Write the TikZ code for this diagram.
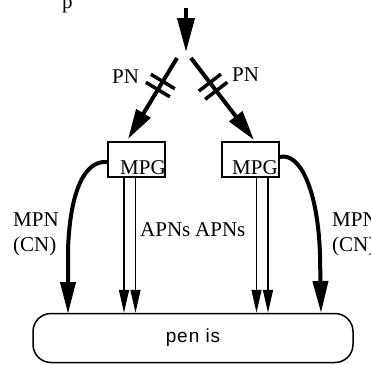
\documentclass[tikz,border=0pt]{standalone}
\usepackage{fontspec}
\setmainfont{Liberation Serif}
\newfontfamily\sansf[LetterSpace=5]{Liberation Sans}
\usetikzlibrary{arrows.meta,calc}
\begin{document}
\begin{tikzpicture}[x=1pt,y=-1pt,
  lbl/.style={anchor=base west,inner sep=0pt,font=\fontsize{21}{23}\selectfont},
  boxn/.style={draw,line width=1.6pt,minimum width=57pt,minimum height=35pt,inner sep=0pt},
  thickarr/.style={line width=4pt,-{Triangle[length=32pt,width=15pt]}},
  apn/.style={line width=1.4pt,-{Triangle[length=23pt,width=10pt]}},
  branch/.style={line width=4pt,-{Triangle[length=30pt,width=16pt]}},
  hash/.style={line width=3.5pt}]
\useasboundingbox (0,0) rectangle (371,364);
% nodes
\node[boxn] (mpgL) at (136.5,159.5) {};
\node[boxn] (mpgR) at (250.5,159.5) {};
\node[lbl] (tL) at (120,174) {MPG};
\node[lbl] (tR) at (232,174) {MPG};
\node[draw,line width=1.5pt,rounded corners=18pt,minimum width=320pt,minimum height=49pt,
      font=\sansf\fontsize{19}{21}\selectfont] (penis) at (193,338) {pen is};
% top arrow
\coordinate (top) at (186,8);
\coordinate (apex) at (186,52);
\draw[line width=4pt,-{Triangle[length=34pt,width=17pt]}] (top) -- (apex);
% branches
\coordinate (bl) at (177,58);
\coordinate (tl) at (128,139);
\coordinate (br) at (191,58);
\coordinate (tr) at (254,140);
\draw[branch] (bl) -- (tl);
\draw[branch] (br) -- (tr);
\coordinate (hL1) at ($(bl)!0.29!(tl)$);
\coordinate (hL2) at ($(bl)!0.39!(tl)$);
\coordinate (hR1) at ($(br)!0.30!(tr)$);
\coordinate (hR2) at ($(br)!0.40!(tr)$);
\draw[hash] ($(hL1)!14pt!90:(tl)$) -- ($(hL1)!14pt!-90:(tl)$);
\draw[hash] ($(hL2)!14pt!90:(tl)$) -- ($(hL2)!14pt!-90:(tl)$);
\draw[hash] ($(hR1)!14pt!90:(tr)$) -- ($(hR1)!14pt!-90:(tr)$);
\draw[hash] ($(hR2)!14pt!90:(tr)$) -- ($(hR2)!14pt!-90:(tr)$);
\node[lbl] (pnL) at (112,83) {PN};
\node[lbl] (pnR) at (232,81) {PN};
% APN arrows
\draw[apn] ([xshift=-12.5pt]mpgL.south) -- ([xshift=-12.5pt]mpgL.south |- penis.north);
\draw[apn] ([xshift=-1pt]mpgL.south) -- ([xshift=-1pt]mpgL.south |- penis.north);
\draw[apn] ([xshift=6pt]mpgR.south) -- ([xshift=6pt]mpgR.south |- penis.north);
\draw[apn] ([xshift=17.5pt]mpgR.south) -- ([xshift=17.5pt]mpgR.south |- penis.north);
\node[lbl] (apnL) at (140,236) {APNs};
\node[lbl] (apnR) at (195,236) {APNs};
% MPN curves
\coordinate (eL) at (68,314);
\coordinate (eR) at (321,313);
\draw[thickarr] ($(mpgL.west)+(0,2.5)$) .. controls (85,160) and (70,190) .. (68,250) -- (eL);
\draw[thickarr] ($(mpgR.east)+(0,-2.5)$) .. controls (300,152) and (318,190) .. (320,255) -- (eR);
\node[lbl] (mpnL) at (13,226) {MPN};
\node[lbl] (cnL) at (13,251) {(CN)};
\node[lbl] (mpnR) at (332,226) {MPN};
\node[lbl] (cnR) at (332,251) {(CN)};
% cut-off text at top
\node[lbl] (ptop) at (62,9) {p};
\end{tikzpicture}
\end{document}
